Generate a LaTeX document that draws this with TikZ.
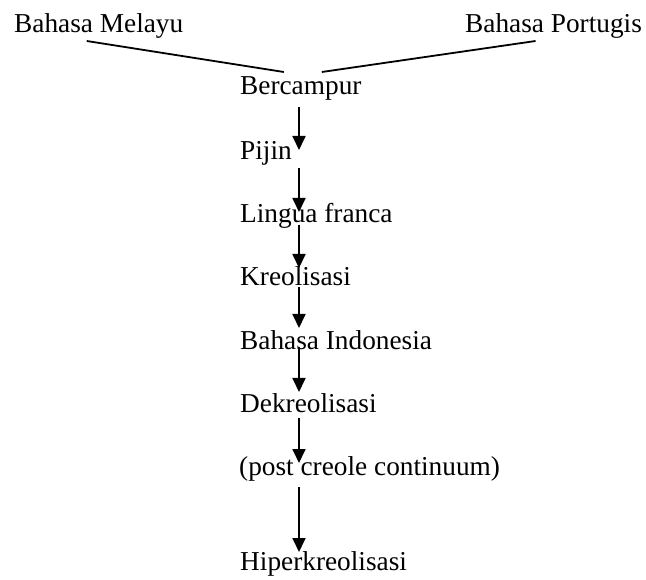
\documentclass[tikz,border=0pt]{standalone}
\usepackage{fontspec}
\setmainfont{Liberation Serif}
\usetikzlibrary{arrows.meta}

\begin{document}
\begin{tikzpicture}[x=1pt,y=-1pt,
    term/.style={anchor=base west,inner sep=0pt,font={\fontsize{27.3}{32}\selectfont}},
    link/.style={line width=1.8pt},
    flow/.style={line width=1.8pt,-{Triangle[length=14pt,width=13pt]}}]
\useasboundingbox (0,0) rectangle (646,580);

\node[term] (melayu) at (14,33) {Bahasa Melayu};
\node[term] (portugis) at (465,33) {Bahasa Portugis};
\node[term] (bercampur) at (240,95) {Bercampur};
\node[term] (pijin) at (240,160) {Pijin};
\node[term] (lingua) at (240,223) {Lingua franca};
\node[term] (kreo) at (240,286) {Kreolisasi};
\node[term] (bindo) at (240,350) {Bahasa Indonesia};
\node[term] (dekreo) at (240,413) {Dekreolisasi};
\node[term] (postcc) at (239,475) {(post creole continuum)};
\node[term] (hiper) at (240,570) {Hiperkreolisasi};
\coordinate (axis) at (299,0);

% two languages meet
\draw[link] ([xshift=-12pt,yshift=-8pt]melayu.base) -- ([xshift=-17pt,yshift=23pt]bercampur.base);
\draw[link] ([xshift=-18pt,yshift=-8pt]portugis.base) -- ([xshift=21pt,yshift=23pt]bercampur.base);

% the chain downwards
\draw[flow] ([yshift=-12pt]bercampur.base -| axis) -- ([yshift=10pt]pijin.base -| axis);
\draw[flow] ([yshift=-8pt]pijin.base -| axis) -- ([yshift=11pt]lingua.base -| axis);
\draw[flow] ([yshift=-2pt]lingua.base -| axis) -- ([yshift=18pt]kreo.base -| axis);
\draw[flow] ([yshift=-1pt]kreo.base -| axis) -- ([yshift=22pt]bindo.base -| axis);
\draw[flow] ([yshift=3pt]bindo.base -| axis) -- ([yshift=21pt]dekreo.base -| axis);
\draw[flow] ([yshift=-5pt]dekreo.base -| axis) -- ([yshift=12pt]postcc.base -| axis);
\draw[flow] ([yshift=-12pt]postcc.base -| axis) -- ([yshift=18pt]hiper.base -| axis);
\end{tikzpicture}
\end{document}
